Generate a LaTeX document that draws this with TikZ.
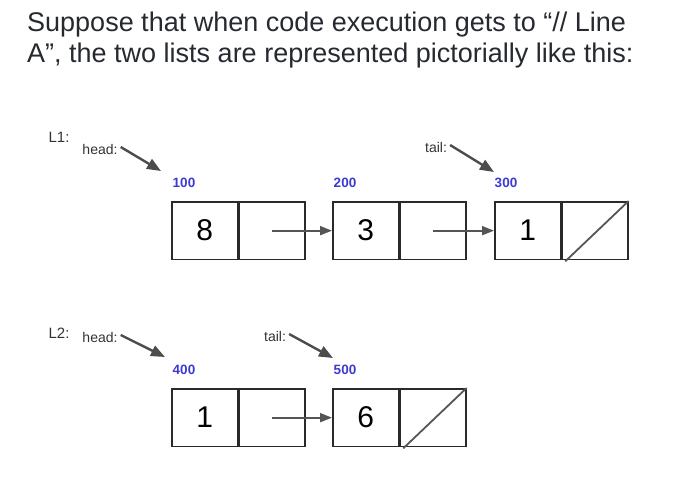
\documentclass[tikz,border=0pt]{standalone}
\usepackage{fontspec}
\setmainfont{Liberation Sans}
\usetikzlibrary{arrows.meta}
\definecolor{titlec}{HTML}{262A30}
\definecolor{boxc}{HTML}{2A2A2A}
\definecolor{ptrc}{HTML}{555555}
\definecolor{addrc}{HTML}{3B3BD2}
\definecolor{lblc}{HTML}{333333}
\begin{document}
\begin{tikzpicture}[x=1pt,y=-1pt,
  cell/.style={draw=boxc, line width=1.8pt, minimum width=65.5pt, minimum height=57.5pt,
    inner sep=0pt, font=\fontsize{30}{30}\selectfont, anchor=north west},
  ptr/.style={draw=ptrc, line width=1.8pt, -{Triangle[length=12pt,width=9pt]}},
  refarrow/.style={draw=ptrc!90!black, line width=2.4pt, -{Triangle[length=14pt,width=11pt]}},
  addr/.style={text=addrc, font=\bfseries\fontsize{13.5}{14}\selectfont, inner sep=0pt},
  lbl/.style={text=lblc, font=\fontsize{14}{15}\selectfont, inner sep=0pt},
  titletext/.style={text=titlec, font=\fontsize{27}{30}\selectfont, inner sep=0pt, anchor=base west}
]
\useasboundingbox (0,0) rectangle (700,496);
% title
\node[titletext] (t1) at (27,31) {Suppose that when code execution gets to “// Line};
\node[titletext] (t2) at (27,62) {A”, the two lists are represented pictorially like this:};

% ---------- L1 ----------
\node[lbl, font=\fontsize{15}{16}\selectfont] (L1) at (59,137) {L1:};
\node[lbl] (h1) at (100,149) {head:};
\node[lbl] (tl1) at (436,147) {tail:};
\coordinate (h1e) at (161,171);
\coordinate (tl1e) at (494,172);
\draw[refarrow] ([xshift=3pt,yshift=2pt]h1.east) -- (h1e);
\draw[refarrow] ([xshift=3pt,yshift=2pt]tl1.east) -- (tl1e);

\node[addr] (a100) at (184,183) {100};
\node[addr] (a200) at (345,183) {200};
\node[addr] (a300) at (506,183) {300};

\node[cell] (c1l) at (171,201) {8};
\node[cell] (c1r) at (c1l.north east) {};
\node[cell] (c2l) at (332,201) {3};
\node[cell] (c2r) at (c2l.north east) {};
\node[cell] (c3l) at (494,201) {1};
\node[cell] (c3r) at (c3l.north east) {};
\draw[ptr] (c1r.center) -- (c2l.west);
\draw[ptr] (c2r.center) -- (c3l.west);
\draw[draw=ptrc, line width=1.8pt] ([xshift=4pt,yshift=-1pt]c3r.south west) -- (c3r.north east);

% ---------- L2 ----------
\node[lbl, font=\fontsize{15}{16}\selectfont] (L2) at (59,333) {L2:};
\node[lbl] (h2) at (100,337) {head:};
\node[lbl] (tl2) at (275,336) {tail:};
\coordinate (h2e) at (165,357);
\coordinate (tl2e) at (333,358);
\draw[refarrow] ([xshift=3pt,yshift=2pt]h2.east) -- (h2e);
\draw[refarrow] ([xshift=3pt,yshift=2pt]tl2.east) -- (tl2e);

\node[addr] (a400) at (184,370) {400};
\node[addr] (a500) at (345,370) {500};

\node[cell] (d1l) at (171,388) {1};
\node[cell] (d1r) at (d1l.north east) {};
\node[cell] (d2l) at (332,388) {6};
\node[cell] (d2r) at (d2l.north east) {};
\draw[ptr] (d1r.center) -- (d2l.west);
\draw[draw=ptrc, line width=1.8pt] ([xshift=4pt,yshift=-1pt]d2r.south west) -- (d2r.north east);
\end{tikzpicture}
\end{document}
